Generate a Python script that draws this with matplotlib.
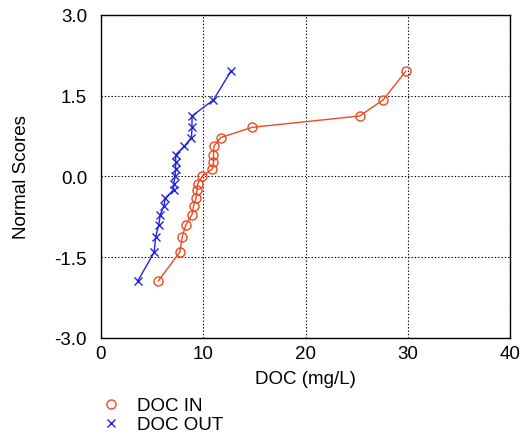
import matplotlib
matplotlib.use("Agg")
import matplotlib.pyplot as plt
from matplotlib.lines import Line2D

plt.rcParams.update({'font.size': 13.5, 'font.family': ['Liberation Sans', 'DejaVu Sans']})

#DATA-------------------
scores = [-1.94, -1.41, -1.12, -0.90, -0.71, -0.55, -0.40, -0.25, -0.14, 0.0,
          0.14, 0.26, 0.40, 0.56, 0.72, 0.91, 1.12, 1.42, 1.95]
doc_in = [5.6, 7.7, 7.95, 8.3, 8.9, 9.05, 9.3, 9.4, 9.45, 9.9,
          10.9, 11.0, 11.0, 11.05, 11.7, 14.8, 25.3, 27.6, 29.8]
doc_out = [3.6, 5.2, 5.35, 5.65, 5.8, 6.15, 6.3, 7.1, 7.1, 7.25,
           7.3, 7.3, 7.3, 8.15, 8.85, 8.9, 8.9, 11.0, 12.7]
xticks = [0, 10, 20, 30, 40]
yticks = [-3.0, -1.5, 0.0, 1.5, 3.0]
#------------------------

red = '#ee4a22'
blue = '#2424dd'

fig = plt.figure(figsize=(5.23, 4.39), dpi=100)
ax = fig.add_axes([101/523, 1-339/439, 409/523, (339-15.7)/439])

ax.plot(doc_in, scores, color=red, lw=1, marker='o', ms=6.5, mfc='none', mec=red, mew=1)
ax.plot(doc_out, scores, color=blue, lw=1, marker='x', ms=6, mec=blue, mew=1)

ax.set_xlim(0, 40)
ax.set_ylim(-3, 3)
ax.set_xticks(xticks)
ax.set_yticks(yticks)
ax.set_yticklabels(['%.1f' % v for v in yticks])
ax.tick_params(axis='y', length=0, pad=10)
ax.tick_params(axis='x', length=0, pad=5)
ax.grid(True, linestyle=(0, (1.2, 1.8)), color='black', lw=0.8)
for s in ax.spines.values():
    s.set_linewidth(1)

ax.set_xlabel('DOC (mg/L)', labelpad=6)
ax.set_ylabel('Normal Scores', labelpad=18)

handles = [Line2D([], [], ls='none', marker='o', ms=6.5, mfc='none', mec=red, mew=1),
           Line2D([], [], ls='none', marker='x', ms=6, mec=blue, mew=1)]
fig.legend(handles, ['DOC IN', 'DOC OUT'], loc='upper left',
           bbox_to_anchor=(90/523, 1-389/439), frameon=False,
           handlelength=1.2, handletextpad=0.8, labelspacing=0.1, borderpad=0)

plt.savefig('out.png', dpi=100)
